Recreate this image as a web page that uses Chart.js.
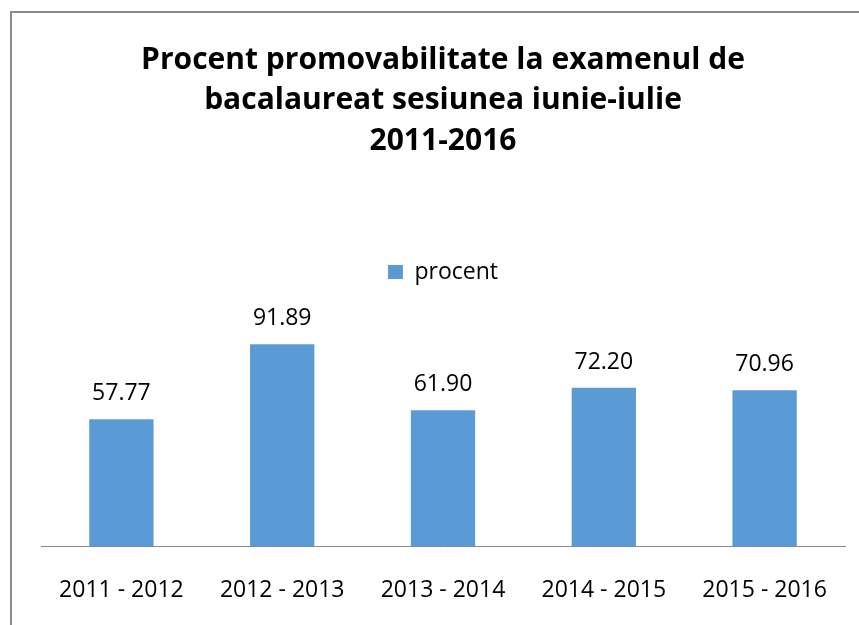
<!DOCTYPE html>
<html>
<head>
<meta charset="utf-8">
<script src="https://cdn.jsdelivr.net/npm/chart.js@4.4.1/dist/chart.umd.min.js"></script>
<style>
  html, body { margin: 0; padding: 0; background: #fff; }
  #frame {
    position: absolute;
    left: 10px;
    top: 11px;
    width: 849px;
    height: 614px;
    border-top: 2px solid #8c8c8c;
    border-left: 2px solid #8c8c8c;
    box-sizing: border-box;
  }
  canvas { display: block; }
</style>
</head>
<body>
<div id="frame">
  <canvas id="bacChart" width="847" height="612"></canvas>
</div>
<script>
const categories = ['2011 - 2012', '2012 - 2013', '2013 - 2014', '2014 - 2015', '2015 - 2016'];
const procentValues = [57.77, 91.89, 61.90, 72.20, 70.96];
const titleLines = ['Procent promovabilitate la examenul de', 'bacalaureat sesiunea iunie-iulie', '2011-2016'];
const seriesName = 'procent';

const FONT = "'Open Sans', 'Liberation Sans', sans-serif";

// draws the value above each bar, like excel data labels
const valueLabels = {
    id: 'valueLabels',
    afterDatasetsDraw(chart) {
        const ctx = chart.ctx;
        ctx.save();
        ctx.font = '23px ' + FONT;
        ctx.fillStyle = '#000';
        ctx.textAlign = 'center';
        ctx.textBaseline = 'alphabetic';
        chart.data.datasets.forEach(function(ds, i) {
            chart.getDatasetMeta(i).data.forEach(function(bar, j) {
                ctx.fillText(ds.data[j].toFixed(2), bar.x, bar.y - 19);
            });
        });
        ctx.restore();
    }
};

const ctx = document.getElementById('bacChart').getContext('2d');

const bacChart = new Chart(ctx, {
    type: 'bar',
    data: {
        labels: categories,
        datasets: [{
            label: seriesName,
            data: procentValues,
            backgroundColor: '#5b9bd5',
            borderWidth: 0,
            categoryPercentage: 1.0,
            barPercentage: 0.4
        }]
    },
    options: {
        responsive: false,
        animation: false,
        layout: {
            padding: { top: 27, left: 29, right: 14, bottom: -9 }
        },
        plugins: {
            title: {
                display: true,
                text: titleLines,
                color: '#000',
                font: { family: FONT, size: 30, weight: 'bold', lineHeight: 1.35 },
                padding: { top: 0, bottom: 53 }
            },
            // empty box between legend and plot, just for spacing
            subtitle: {
                display: true,
                text: '',
                weight: 500,
                font: { size: 1, lineHeight: 1 },
                padding: { top: 0, bottom: 32 }
            },
            legend: {
                display: true,
                labels: {
                    color: '#000',
                    font: { family: FONT, size: 23 },
                    boxWidth: 15,
                    boxHeight: 14,
                    padding: 46
                }
            },
            tooltip: { enabled: false }
        },
        scales: {
            x: {
                grid: { display: false, drawTicks: false },
                border: { display: true, color: '#898989', width: 1 },
                ticks: {
                    color: '#000',
                    font: { family: FONT, size: 23 },
                    padding: 30,
                    maxRotation: 0
                }
            },
            y: {
                display: false,
                min: 0,
                max: 100
            }
        }
    },
    plugins: [valueLabels]
});
</script>
</body>
</html>
